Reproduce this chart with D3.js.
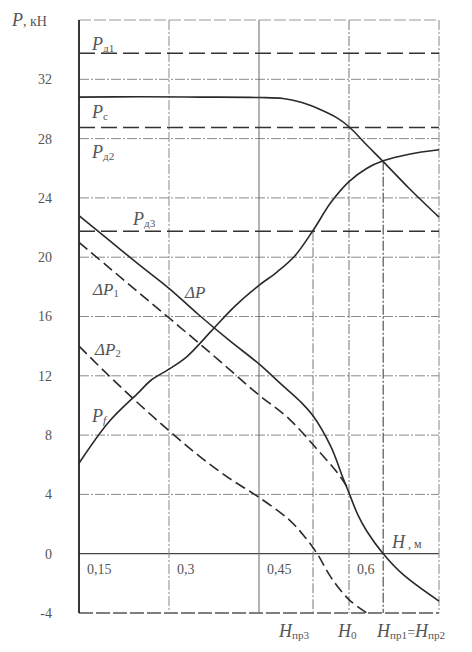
<!DOCTYPE html>
<html><head><meta charset="utf-8">
<script src="https://cdn.jsdelivr.net/npm/d3@7"></script>
<style>
html,body{margin:0;padding:0;background:#fff;}
svg{display:block;}
text{font-family:"Liberation Serif","DejaVu Serif",serif;fill:#555;}
</style></head>
<body>
<div id="chart"></div>
<script>
// ---- data ----
const yTicks = [-4, 0, 4, 8, 12, 16, 20, 24, 28, 32];
const xTicks = [0.15, 0.3, 0.45, 0.6];
const xTickLabels = ["0,15", "0,3", "0,45", "0,6"];

// horizontal constant levels (kN)
const Pd1 = 33.75, Pd2 = 28.75, Pd3 = 21.75;

// characteristic heights (m)
const Hpr3 = 0.54, H0 = 0.6, Hpr1 = 0.657;

const Pc = [
  [0.15,30.8],[0.25,30.82],[0.35,30.8],[0.45,30.77],[0.49,30.7],[0.52,30.45],
  [0.55,30.0],[0.58,29.4],[0.6,28.8],[0.63,27.55],[0.657,26.45],[0.7,24.65],[0.75,22.7]
];
const Pf = [
  [0.15,6.1],[0.2,8.9],[0.25,10.9],[0.27,11.7],[0.3,12.45],[0.33,13.3],[0.37,15.0],
  [0.41,16.7],[0.45,18.1],[0.48,19.0],[0.51,20.1],[0.54,21.8],[0.57,23.7],
  [0.6,25.1],[0.63,26.0],[0.657,26.5],[0.7,26.95],[0.75,27.25]
];
const dP = [
  [0.15,22.8],[0.2,21.15],[0.25,19.5],[0.3,17.9],[0.35,16.1],[0.4,14.4],[0.45,12.8],
  [0.485,11.5],[0.518,10.3],[0.54,9.3],[0.57,7.2],[0.59,5.1],[0.6,4.1],[0.615,2.6],
  [0.63,1.5],[0.657,0],[0.69,-1.4],[0.75,-3.2]
];
const dP1 = [
  [0.15,21.0],[0.2,19.3],[0.25,17.6],[0.3,15.9],[0.35,14.2],[0.4,12.45],[0.45,10.7],
  [0.5,9.1],[0.55,6.9],[0.58,5.5],[0.6,4.3]
];
const dP2 = [
  [0.15,14.0],[0.2,12.0],[0.25,10.1],[0.3,8.3],[0.35,6.6],[0.4,5.1],[0.45,3.8],
  [0.5,2.3],[0.525,1.2],[0.547,0],[0.57,-1.6],[0.6,-3.1],[0.63,-4.0]
];

// ---- drawing ----
const W = 472, H = 652;
const svg = d3.select("#chart").append("svg").attr("width", W).attr("height", H);
const x = d3.scaleLinear().domain([0.15, 0.75]).range([79, 439]);
const y = d3.scaleLinear().domain([-4, 36]).range([613, 20]);

const ink = "#2a2a2a", grid = "#8a8a8a";

// horizontal grid
const hg = svg.append("g");
yTicks.filter(v => v > 0).forEach(v => {
  hg.append("line").attr("x1", x(0.15)).attr("x2", x(0.75)).attr("y1", y(v)).attr("y2", y(v))
    .attr("stroke", grid).attr("stroke-width", 1).attr("stroke-dasharray", "10,2,2,2");
});
// top border
hg.append("line").attr("x1", x(0.15)).attr("x2", x(0.75)).attr("y1", y(36)).attr("y2", y(36))
  .attr("stroke", "#999").attr("stroke-width", 1).attr("stroke-dasharray", "12,3");
// bottom border
hg.append("line").attr("x1", x(0.15)).attr("x2", x(0.75)).attr("y1", y(-4)).attr("y2", y(-4))
  .attr("stroke", "#555").attr("stroke-width", 1.3).attr("stroke-dasharray", "14,3");
// zero line
hg.append("line").attr("x1", x(0.15)).attr("x2", x(0.75)).attr("y1", y(0)).attr("y2", y(0))
  .attr("stroke", "#444").attr("stroke-width", 1.3);

// vertical grid
const vg = svg.append("g");
[[0.3,"10,2,2,2","#8a8a8a"],[0.45,null,"#666"],[0.6,"10,2,2,2","#777"],[0.75,"10,2,2,2","#888"]].forEach(([v,d,c]) => {
  const l = vg.append("line").attr("x1", x(v)).attr("x2", x(v)).attr("y1", y(36)).attr("y2", y(-4))
    .attr("stroke", c).attr("stroke-width", 1);
  if (d) l.attr("stroke-dasharray", d);
});
// special verticals
vg.append("line").attr("x1", x(Hpr3)).attr("x2", x(Hpr3)).attr("y1", y(Pd3)).attr("y2", y(-4))
  .attr("stroke", "#777").attr("stroke-width", 1).attr("stroke-dasharray", "10,2,2,2");
vg.append("line").attr("x1", x(Hpr1)).attr("x2", x(Hpr1)).attr("y1", y(26.5)).attr("y2", y(-4))
  .attr("stroke", "#555").attr("stroke-width", 1.2).attr("stroke-dasharray", "10,2,2,2");

// left axis
svg.append("line").attr("x1", x(0.15)).attr("x2", x(0.15)).attr("y1", y(36)).attr("y2", y(-4))
  .attr("stroke", "#222").attr("stroke-width", 1.8);

// Pd horizontal dashed levels
[Pd1, Pd2, Pd3].forEach(v => {
  svg.append("line").attr("x1", x(0.15)).attr("x2", x(0.75)).attr("y1", y(v)).attr("y2", y(v))
    .attr("stroke", "#333").attr("stroke-width", 1.5).attr("stroke-dasharray", "16,6");
});

// curves
const line = d3.line().x(d => x(d[0])).y(d => y(d[1])).curve(d3.curveCatmullRom.alpha(0.5));
const curves = [
  [Pc, null], [Pf, null], [dP, null], [dP1, "11,5"], [dP2, "11,5"]
];
curves.forEach(([data, dash]) => {
  const p = svg.append("path").attr("d", line(data)).attr("fill", "none")
    .attr("stroke", ink).attr("stroke-width", 1.6);
  if (dash) p.attr("stroke-dasharray", dash);
});

// y tick labels
svg.append("g").selectAll("text").data(yTicks).join("text")
  .attr("x", 52).attr("y", d => y(d)).attr("dy", "0.35em").attr("text-anchor", "end")
  .attr("font-size", 14).text(d => d);

// x tick labels
svg.append("g").selectAll("text").data(xTicks).join("text")
  .attr("x", d => x(d) + 8).attr("y", 574).attr("font-size", 14)
  .text((d, i) => xTickLabels[i]);

// label helper: italic main + subscript
function lab(px, py, main, sub, size, subItalic) {
  const t = svg.append("text").attr("x", px).attr("y", py).attr("font-size", size);
  t.append("tspan").attr("font-style", "italic").text(main);
  if (sub) t.append("tspan").attr("font-size", size * 0.62).attr("dy", 2)
    .attr("font-style", subItalic ? "italic" : "normal").text(sub);
  return t;
}

// axis titles
const tP = svg.append("text").attr("x", 12).attr("y", 26).attr("font-size", 18);
tP.append("tspan").attr("font-style", "italic").text("P");
tP.append("tspan").attr("font-size", 14).text(", кН");
const tH = svg.append("text").attr("x", 392).attr("y", 548).attr("font-size", 18);
tH.append("tspan").attr("font-style", "italic").text("H");
tH.append("tspan").attr("font-size", 12).text(" , м");

// curve labels
lab(92, 50, "P", "д1", 18);
lab(92, 118, "P", "с", 18);
lab(92, 158, "P", "д2", 18);
lab(133, 225, "P", "д3", 18);
lab(93, 295, "ΔP", "1", 17);
lab(185, 298, "ΔP", null, 17);
lab(95, 355, "ΔP", "2", 17);
lab(92, 422, "P", "f", 18, true);

// bottom H labels
lab(279, 637, "H", "пр3", 18);
lab(338, 637, "H", "0", 18);
const tB = lab(377, 637, "H", "пр1", 18);
tB.append("tspan").attr("dy", -2).attr("font-size", 14).text("=");
tB.append("tspan").attr("font-style", "italic").text("H");
tB.append("tspan").attr("font-size", 18 * 0.62).attr("dy", 2).text("пр2");
</script>
</body></html>
